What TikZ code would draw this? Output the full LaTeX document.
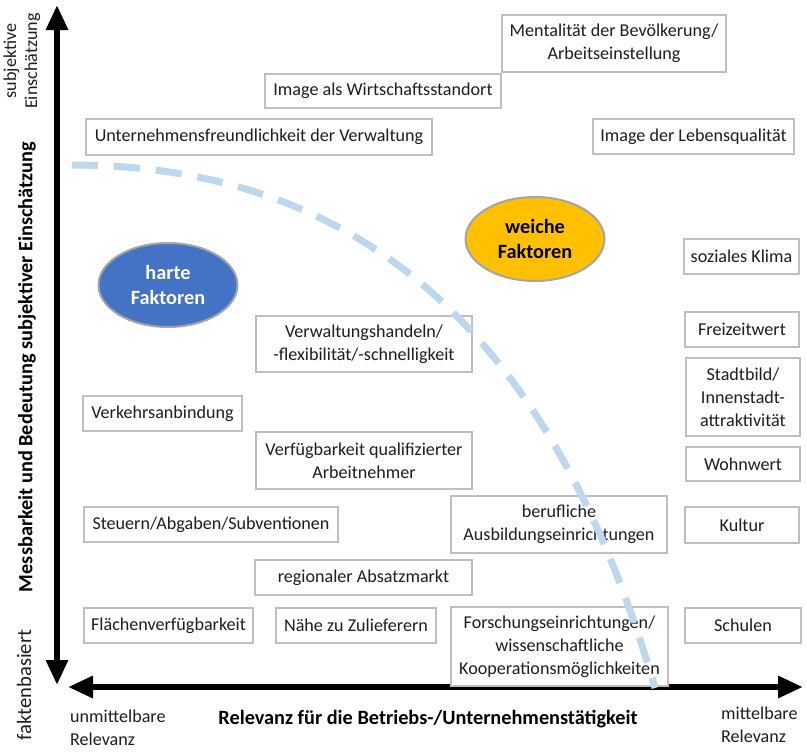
\documentclass[tikz,border=0pt]{standalone}
\usepackage{fontspec}
\setmainfont{Carlito}
\usetikzlibrary{arrows.meta,shapes.geometric}
\definecolor{LocInk}{RGB}{30,30,30}
\definecolor{LocFrame}{RGB}{191,191,191}
\definecolor{LocOval}{RGB}{165,165,165}
\definecolor{LocBlue}{RGB}{68,114,196}
\definecolor{LocGold}{RGB}{255,192,0}
\definecolor{LocDash}{RGB}{189,215,238}
\tikzset{
  loc/box/.style={
    draw=LocFrame,
    line width=1.5pt,
    fill=white,
    align=center,
    text=LocInk,
    inner sep=0pt,
    font=\fontsize{18.1}{23}\selectfont
  },
  loc/oval/.style={
    ellipse,
    draw=LocOval,
    line width=2pt,
    align=center,
    inner sep=0pt,
    minimum width=139pt,
    minimum height=84pt,
    font=\bfseries\fontsize{20.3}{24.5}\selectfont
  },
  loc/axis/.style={line width=6pt, draw=black, arrows={Triangle[length=25pt,width=21pt]-Triangle[length=25pt,width=21pt]}},
  loc/curve/.style={draw=LocDash, line width=7pt, dash pattern=on 26pt off 16pt},
  loc/label/.style={font=\fontsize{18.1}{21}\selectfont, text=LocInk, align=center, inner sep=0pt},
  loc/sidelabel/.style={font=\fontsize{18.1}{23}\selectfont, text=LocInk, align=left, inner sep=0pt, anchor=west},
  loc/title/.style={font=\bfseries\fontsize{20.3}{24}\selectfont, text=black, inner sep=0pt}
}

\begin{document}
\begin{tikzpicture}[x=1pt,y=-1pt]
  \useasboundingbox (0,0) rectangle (807,753);

  \coordinate (ytop) at (57,5);
  \coordinate (ybot) at (57,685);
  \coordinate (xleft) at (68,687);
  \coordinate (xright) at (803,687);
  \draw[loc/axis] (ybot) -- (ytop);
  \draw[loc/axis] (xleft) -- (xright);

  \node[loc/label,rotate=90] (subj) at (22,61) {subjektive\\Einschätzung};
  \node[loc/title,rotate=90] (ytitle) at (27,367) {Messbarkeit und Bedeutung subjektiver Einschätzung};
  \node[loc/label,rotate=90,font=\fontsize{20.6}{24}\selectfont] (fakt) at (24,685) {faktenbasiert};
  \node[loc/sidelabel] (unmit) at (70,728) {unmittelbare\\Relevanz};
  \node[loc/title] (xtitle) at (428,719) {Relevanz für die Betriebs-/Unternehmenstätigkeit};
  \node[loc/sidelabel] (mit) at (721,725) {mittelbare\\Relevanz};

  \foreach \n/\x/\y/\w/\h/\txt in {
    ment/614/43.5/224pt/57pt/{Mentalität der Bevölkerung/\\Arbeitseinstellung},
    imgws/383/91/236pt/34pt/{Image als Wirtschaftsstandort},
    freund/259/137/346pt/36pt/{Unternehmensfreundlichkeit der Verwaltung},
    imglq/693.5/136.5/201pt/35pt/{Image der Lebensqualität},
    klima/741.5/256.5/115pt/35pt/{soziales Klima},
    freizeit/742/329.5/114pt/35pt/{Freizeitwert},
    stadt/743/397/114pt/78pt/{Stadtbild/\\Innenstadt-\\attraktivität},
    wohnen/743/464/114pt/34pt/{Wohnwert},
    kultur/742/525/114pt/36pt/{Kultur},
    schulen/743/625.5/116pt/35pt/{Schulen},
    verwalt/364/344/216pt/56pt/{Verwaltungshandeln/\\-flexibilität/-schnelligkeit},
    verkehr/162.5/413.5/159pt/35pt/{Verkehrsanbindung},
    personal/364/460.5/216pt/57pt/{Verfügbarkeit qualifizierter\\Arbeitnehmer},
    steuern/211/524.5/254pt/35pt/{Steuern/Abgaben/Subventionen},
    ausbild/559/524.5/216pt/57pt/{berufliche\\Ausbildungseinrichtungen},
    absatz/363.5/577.5/217pt/35pt/{regionaler Absatzmarkt},
    flaeche/168.5/625.5/169pt/35pt/{Flächenverfügbarkeit},
    zuliefer/356/625.5/160pt/35pt/{Nähe zu Zulieferern},
    forsch/559.5/646.5/217pt/79pt/{Forschungseinrichtungen/\\wissenschaftliche\\Kooperationsmöglichkeiten}}
  {\node[loc/box,minimum width=\w,minimum height=\h] (\n) at (\x,\y) {\txt};}

  \node[loc/oval,fill=LocBlue,text=white] (hart) at (168,285) {harte\\Faktoren};
  \node[loc/oval,fill=LocGold,text=black] (weich) at (535,239) {weiche\\Faktoren};

  \draw[loc/curve] (72,165) .. controls (402,165) and (568,388) .. (655,688);
\end{tikzpicture}
\end{document}
